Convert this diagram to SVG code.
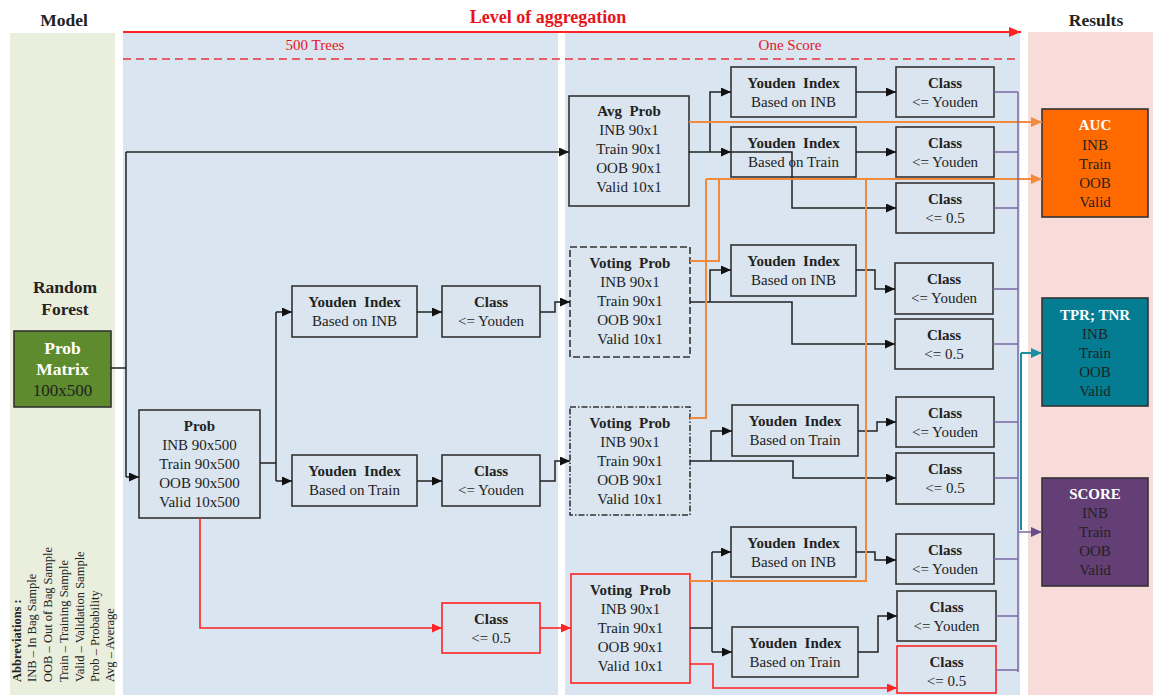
<svg xmlns="http://www.w3.org/2000/svg" width="1153" height="695" viewBox="0 0 1153 695">
<defs>
<style>
text{font-family:"Liberation Serif","Times New Roman",serif;fill:#222;text-anchor:middle}
.t{font-size:15px}
.b{font-weight:bold}
.box{fill:#DAE5F0;stroke:#333;stroke-width:1.6}
.rbox{fill:#DAE5F0;stroke:#F22;stroke-width:1.6}
.hd{font-size:17.5px;font-weight:bold}
.w{fill:#fff}
.k{fill:none;stroke:#222;stroke-width:1.5}
.o{fill:none;stroke:#F28A3C;stroke-width:2}
.r{fill:none;stroke:#F22;stroke-width:1.6}
.p{fill:none;stroke:#7B68A6;stroke-width:1.5}
.tl{fill:none;stroke:#1A8FA3;stroke-width:2}
.ab{font-size:12.5px;text-anchor:start}
</style>
<marker id="ak" markerUnits="userSpaceOnUse" markerWidth="10" markerHeight="9" refX="10" refY="4.5" orient="auto"><path d="M0,0L10,4.5L0,9z" fill="#111"/></marker>
<marker id="ao" markerUnits="userSpaceOnUse" markerWidth="11" markerHeight="10" refX="11" refY="5" orient="auto"><path d="M0,0L11,5L0,10z" fill="#F28A3C"/></marker>
<marker id="ar" markerUnits="userSpaceOnUse" markerWidth="10" markerHeight="9" refX="10" refY="4.5" orient="auto"><path d="M0,0L10,4.5L0,9z" fill="#F22"/></marker>
<marker id="ap" markerUnits="userSpaceOnUse" markerWidth="11" markerHeight="10" refX="11" refY="5" orient="auto"><path d="M0,0L11,5L0,10z" fill="#6A4C8A"/></marker>
<marker id="at" markerUnits="userSpaceOnUse" markerWidth="11" markerHeight="10" refX="11" refY="5" orient="auto"><path d="M0,0L11,5L0,10z" fill="#1A8FA3"/></marker>
<marker id="ah" markerUnits="userSpaceOnUse" markerWidth="12" markerHeight="10" refX="12" refY="5" orient="auto"><path d="M0,0L12,5L0,10z" fill="#F22"/></marker>
</defs>
<rect width="1153" height="695" fill="#fff"/>
<g id="background">
<rect x="10" y="33" width="105" height="662" fill="#EAEEDC"/>
<rect x="123" y="32" width="435" height="663" fill="#D9E5F0"/>
<rect x="565" y="32" width="455" height="663" fill="#D9E5F0"/>
<rect x="1028" y="32" width="125" height="663" fill="#F8DCDA"/>
<text class="hd" x="64" y="26">Model</text>
<text class="hd" x="1096" y="26">Results</text>
<text x="548" y="23" style="font-size:18px;font-weight:bold;fill:#E8141C">Level of aggregation</text>
<text x="315" y="50" style="font-size:15px;fill:#E8141C">500 Trees</text>
<text x="790" y="50" style="font-size:15px;fill:#E8141C">One Score</text>
<line x1="123" y1="32" x2="1021" y2="32" stroke="#F22" stroke-width="2" marker-end="url(#ah)"/>
<line x1="123" y1="59" x2="1020" y2="59" stroke="#E8333A" stroke-width="1.6" stroke-dasharray="8,5"/>
<text class="hd" x="65" y="293">Random</text>
<text class="hd" x="65" y="315">Forest</text>
<text class="ab b" transform="translate(21,682) rotate(-90)">Abbreviations :</text>
<text class="ab" transform="translate(36,682) rotate(-90)">INB – In Bag Sample</text>
<text class="ab" transform="translate(52,682) rotate(-90)">OOB – Out of Bag Sample</text>
<text class="ab" transform="translate(68,682) rotate(-90)">Train – Training Sample</text>
<text class="ab" transform="translate(84,682) rotate(-90)">Valid – Validation Sample</text>
<text class="ab" transform="translate(99,682) rotate(-90)">Prob – Probability</text>
<text class="ab" transform="translate(114,682) rotate(-90)">Avg – Average</text>
</g>
<g id="prob-matrix">
<rect x="14" y="331" width="97" height="76" fill="#5E8B2E" stroke="#333" stroke-width="1.6"/>
<text class="hd w" x="62.5" y="354">Prob</text>
<text class="hd w" x="62.5" y="375">Matrix</text>
<text x="62.5" y="396" style="font-size:17px">100x500</text>
</g>
<g id="prob">
<rect class="box" x="139" y="410" width="121" height="108"/>
<text class="t b" x="199.5" y="431">Prob</text>
<text class="t" x="199.5" y="450">INB 90x500</text>
<text class="t" x="199.5" y="469">Train 90x500</text>
<text class="t" x="199.5" y="488">OOB 90x500</text>
<text class="t" x="199.5" y="507">Valid 10x500</text>
</g>
<g id="youden-inb-1"><rect class="box" x="292" y="286" width="125" height="51"/><text class="t b" x="354.5" y="307">Youden&#160; Index</text><text class="t" x="354.5" y="326">Based on INB</text></g>
<g id="class-youden-1"><rect class="box" x="442" y="286" width="98" height="51"/><text class="t b" x="491" y="307">Class</text><text class="t" x="491" y="326">&lt;= Youden</text></g>
<g id="youden-train-1"><rect class="box" x="292" y="455" width="125" height="51"/><text class="t b" x="354.5" y="476">Youden&#160; Index</text><text class="t" x="354.5" y="495">Based on Train</text></g>
<g id="class-youden-2"><rect class="box" x="442" y="455" width="98" height="51"/><text class="t b" x="491" y="476">Class</text><text class="t" x="491" y="495">&lt;= Youden</text></g>
<g id="class-05-1"><rect class="rbox" x="442" y="603" width="98" height="50"/><text class="t b" x="491" y="624">Class</text><text class="t" x="491" y="643">&lt;= 0.5</text></g>
<g id="avg-prob">
<rect class="box" x="569" y="96" width="120" height="110"/>
<text class="t b" x="629" y="116">Avg&#160; Prob</text>
<text class="t" x="629" y="135">INB 90x1</text>
<text class="t" x="629" y="154">Train 90x1</text>
<text class="t" x="629" y="173">OOB 90x1</text>
<text class="t" x="629" y="192">Valid 10x1</text>
</g>
<g id="voting-prob-1">
<rect class="box" x="570" y="247" width="120" height="110" stroke-dasharray="7,3"/>
<text class="t b" x="630" y="268">Voting&#160; Prob</text>
<text class="t" x="630" y="287">INB 90x1</text>
<text class="t" x="630" y="306">Train 90x1</text>
<text class="t" x="630" y="325">OOB 90x1</text>
<text class="t" x="630" y="344">Valid 10x1</text>
</g>
<g id="voting-prob-2">
<rect class="box" x="570" y="407" width="120" height="108" stroke-dasharray="6,2,1.5,2"/>
<text class="t b" x="630" y="428">Voting&#160; Prob</text>
<text class="t" x="630" y="447">INB 90x1</text>
<text class="t" x="630" y="466">Train 90x1</text>
<text class="t" x="630" y="485">OOB 90x1</text>
<text class="t" x="630" y="504">Valid 10x1</text>
</g>
<g id="voting-prob-3">
<rect class="rbox" x="571" y="574" width="119" height="109"/>
<text class="t b" x="630.5" y="595">Voting&#160; Prob</text>
<text class="t" x="630.5" y="614">INB 90x1</text>
<text class="t" x="630.5" y="633">Train 90x1</text>
<text class="t" x="630.5" y="652">OOB 90x1</text>
<text class="t" x="630.5" y="671">Valid 10x1</text>
</g>
<g id="youden-a-inb"><rect class="box" x="731" y="67" width="125" height="50"/><text class="t b" x="793.5" y="88">Youden&#160; Index</text><text class="t" x="793.5" y="107">Based on INB</text></g>
<g id="youden-a-train"><rect class="box" x="731" y="127" width="125" height="50"/><text class="t b" x="793.5" y="148">Youden&#160; Index</text><text class="t" x="793.5" y="167">Based on Train</text></g>
<g id="youden-v1-inb"><rect class="box" x="731" y="245" width="125" height="51"/><text class="t b" x="793.5" y="266">Youden&#160; Index</text><text class="t" x="793.5" y="285">Based on INB</text></g>
<g id="youden-v2-train"><rect class="box" x="732" y="405" width="126" height="51"/><text class="t b" x="795" y="426">Youden&#160; Index</text><text class="t" x="795" y="445">Based on Train</text></g>
<g id="youden-v3-inb"><rect class="box" x="731" y="527" width="125" height="50"/><text class="t b" x="793.5" y="548">Youden&#160; Index</text><text class="t" x="793.5" y="567">Based on INB</text></g>
<g id="youden-v3-train"><rect class="box" x="732" y="627" width="126" height="50"/><text class="t b" x="795" y="648">Youden&#160; Index</text><text class="t" x="795" y="667">Based on Train</text></g>
<g id="class-a1"><rect class="box" x="896" y="67" width="98" height="50"/><text class="t b" x="945" y="88">Class</text><text class="t" x="945" y="107">&lt;= Youden</text></g>
<g id="class-a2"><rect class="box" x="896" y="127" width="98" height="50"/><text class="t b" x="945" y="148">Class</text><text class="t" x="945" y="167">&lt;= Youden</text></g>
<g id="class-a3"><rect class="box" x="896" y="183" width="98" height="50"/><text class="t b" x="945" y="204">Class</text><text class="t" x="945" y="223">&lt;= 0.5</text></g>
<g id="class-v1a"><rect class="box" x="895" y="263" width="98" height="51"/><text class="t b" x="944" y="284">Class</text><text class="t" x="944" y="303">&lt;= Youden</text></g>
<g id="class-v1b"><rect class="box" x="895" y="319" width="98" height="50"/><text class="t b" x="944" y="340">Class</text><text class="t" x="944" y="359">&lt;= 0.5</text></g>
<g id="class-v2a"><rect class="box" x="896" y="397" width="98" height="50"/><text class="t b" x="945" y="418">Class</text><text class="t" x="945" y="437">&lt;= Youden</text></g>
<g id="class-v2b"><rect class="box" x="896" y="453" width="98" height="51"/><text class="t b" x="945" y="474">Class</text><text class="t" x="945" y="493">&lt;= 0.5</text></g>
<g id="class-v3a"><rect class="box" x="896" y="534" width="98" height="50"/><text class="t b" x="945" y="555">Class</text><text class="t" x="945" y="574">&lt;= Youden</text></g>
<g id="class-v3b"><rect class="box" x="897" y="591" width="99" height="50"/><text class="t b" x="946.5" y="612">Class</text><text class="t" x="946.5" y="631">&lt;= Youden</text></g>
<g id="class-v3c"><rect class="rbox" x="897" y="646" width="99" height="47"/><text class="t b" x="946.5" y="667">Class</text><text class="t" x="946.5" y="686">&lt;= 0.5</text></g>
<g id="auc"><rect x="1042" y="109" width="106" height="108" fill="#FF6A00" stroke="#333" stroke-width="1.6"/><text class="t b w" x="1095" y="130">AUC</text><text class="t" x="1095" y="150">INB</text><text class="t" x="1095" y="169">Train</text><text class="t" x="1095" y="188">OOB</text><text class="t" x="1095" y="207">Valid</text></g>
<g id="tpr-tnr"><rect x="1042" y="298" width="106" height="108" fill="#047C92" stroke="#333" stroke-width="1.6"/><text class="t b w" x="1095" y="320">TPR; TNR</text><text class="t" x="1095" y="339">INB</text><text class="t" x="1095" y="358">Train</text><text class="t" x="1095" y="377">OOB</text><text class="t" x="1095" y="396">Valid</text></g>
<g id="score"><rect x="1042" y="478" width="106" height="108" fill="#633F76" stroke="#333" stroke-width="1.6"/><text class="t b w" x="1095" y="499">SCORE</text><text class="t" x="1095" y="518">INB</text><text class="t" x="1095" y="537">Train</text><text class="t" x="1095" y="556">OOB</text><text class="t" x="1095" y="575">Valid</text></g>
<g id="connectors">
<path class="k" d="M111,368H126M126,152V477"/>
<path class="k" d="M126,152H569" marker-end="url(#ak)"/>
<path class="k" d="M126,477H139" marker-end="url(#ak)"/>
<path class="k" d="M260,463H276M276,312V481"/>
<path class="k" d="M276,312H292" marker-end="url(#ak)"/>
<path class="k" d="M276,481H292" marker-end="url(#ak)"/>
<path class="k" d="M417,312H442" marker-end="url(#ak)"/>
<path class="k" d="M417,481H442" marker-end="url(#ak)"/>
<path class="k" d="M540,312H555V302H570" marker-end="url(#ak)"/>
<path class="k" d="M540,481H555V461H570" marker-end="url(#ak)"/>
<path class="k" d="M689,152H731" marker-end="url(#ak)"/>
<path class="k" d="M710,152V92H731" marker-end="url(#ak)"/>
<path class="k" d="M731,152H792V208H896" marker-end="url(#ak)"/>
<path class="k" d="M856,92H896" marker-end="url(#ak)"/>
<path class="k" d="M856,152H896" marker-end="url(#ak)"/>
<path class="k" d="M690,302H792V344H895" marker-end="url(#ak)"/>
<path class="k" d="M710,302V270H731" marker-end="url(#ak)"/>
<path class="k" d="M856,270H875V289H895" marker-end="url(#ak)"/>
<path class="k" d="M690,461H793V478H896" marker-end="url(#ak)"/>
<path class="k" d="M711,461V431H732" marker-end="url(#ak)"/>
<path class="k" d="M858,431H877V422H896" marker-end="url(#ak)"/>
<path class="k" d="M690,628H712M712,552V652"/>
<path class="k" d="M712,552H731" marker-end="url(#ak)"/>
<path class="k" d="M712,652H732" marker-end="url(#ak)"/>
<path class="k" d="M856,552H875V560H896" marker-end="url(#ak)"/>
<path class="k" d="M858,652H878V616H897" marker-end="url(#ak)"/>
<path class="r" d="M200,518V628H442" marker-end="url(#ar)"/>
<path class="r" d="M540,628H571" marker-end="url(#ar)"/>
<path class="r" d="M690,664H713V688H897" marker-end="url(#ar)"/>
<path class="o" d="M689,122H1042" marker-end="url(#ao)"/>
<path class="o" d="M690,261H719V179M690,418H706V179M690,581H866V179"/>
<path class="o" d="M706,179H1042" marker-end="url(#ao)"/>
<path class="p" d="M1018,92V672M994,92H1018M994,152H1018M994,208H1018M993,289H1018M993,344H1018M994,422H1018M994,478H1018M994,559H1018M996,616H1018M996,670H1018"/>
<path class="tl" d="M1021,353V530"/>
<path class="tl" d="M1021,353H1042" marker-end="url(#at)"/>
<path class="p" d="M1018,532H1042" stroke="#6A4C8A" stroke-width="2" marker-end="url(#ap)"/>
</g>
</svg>
